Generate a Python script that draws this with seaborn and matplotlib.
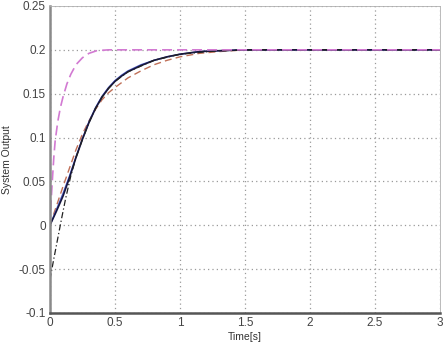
import matplotlib
matplotlib.use("Agg")
import matplotlib.pyplot as plt
import seaborn as sns
import pandas as pd

# ---- data ----
t_fast = [0, 0.01, 0.02, 0.03, 0.04, 0.06, 0.08, 0.10, 0.13, 0.16, 0.20, 0.25, 0.30, 0.36, 0.45, 0.6, 1.0, 2.0, 3.0]
y_fast = [0, 0.03, 0.055, 0.078, 0.096, 0.118, 0.134, 0.146, 0.161, 0.172, 0.183, 0.191, 0.196, 0.199, 0.2, 0.2, 0.2, 0.2, 0.2]

t_main = [0, 0.05, 0.10, 0.15, 0.20, 0.25, 0.30, 0.35, 0.40, 0.45, 0.50, 0.55, 0.60, 0.70, 0.80, 0.90, 1.00, 1.15, 1.30, 1.50, 2.0, 3.0]
y_navy = [0, 0.016, 0.033, 0.054, 0.077, 0.098, 0.117, 0.133, 0.146, 0.156, 0.164, 0.170, 0.175, 0.182, 0.188, 0.192, 0.195, 0.198, 0.199, 0.2, 0.2, 0.2]
y_blue = [0, 0.018, 0.036, 0.056, 0.078, 0.099, 0.118, 0.134, 0.147, 0.157, 0.165, 0.171, 0.176, 0.183, 0.188, 0.192, 0.195, 0.198, 0.199, 0.2, 0.2, 0.2]

t_neg = [0, 0.03, 0.06, 0.09, 0.12, 0.16, 0.20, 0.25, 0.30, 0.35, 0.40, 0.45, 0.50, 0.60, 0.80, 1.00, 1.30, 1.60, 2.0, 3.0]
y_neg = [-0.062, -0.038, -0.015, 0.008, 0.030, 0.056, 0.077, 0.098, 0.117, 0.133, 0.146, 0.156, 0.164, 0.175, 0.188, 0.195, 0.199, 0.2, 0.2, 0.2]

t_brown = [0, 0.05, 0.10, 0.15, 0.20, 0.25, 0.30, 0.35, 0.40, 0.45, 0.50, 0.60, 0.70, 0.80, 0.90, 1.00, 1.15, 1.30, 1.50, 1.8, 2.0, 3.0]
y_brown = [0, 0.022, 0.044, 0.065, 0.086, 0.104, 0.119, 0.132, 0.143, 0.151, 0.157, 0.168, 0.176, 0.183, 0.188, 0.192, 0.196, 0.198, 0.2, 0.2, 0.2, 0.2]

x_ticks = [0, 0.5, 1, 1.5, 2, 2.5, 3]
x_tick_labels = ["0", "0.5", "1", "1.5", "2", "2.5", "3"]
y_ticks = [-0.1, -0.05, 0, 0.05, 0.1, 0.15, 0.2, 0.25]
y_tick_labels = ["-0.1", "-0.05", "0", "0.05", "0.1", "0.15", "0.2", "0.25"]

sns.set_style("white")
plt.rcParams['font.family'] = ['Liberation Sans', 'DejaVu Sans']

fig = plt.figure(figsize=(4.46, 3.42), dpi=100)
ax = fig.add_axes([0.112, 0.085, 0.8745, 0.8975])

series = [
    (t_brown, y_brown, "#c07058", (0, (5, 3)), 1.0),
    (t_main, y_blue, "#4f5cc8", "-", 1.0),
    (t_main, y_navy, "#16163f", "-", 1.2),
    (t_neg, y_neg, "#222222", (0, (5, 2, 1, 2)), 0.9),
    (t_fast, y_fast, "#d27ad2", (0, (6, 3)), 1.2),
]
for tx, yy, col, ls, lw in series:
    df = pd.DataFrame({"t": tx, "y": yy})
    sns.lineplot(data=df, x="t", y="y", ax=ax, color=col, linewidth=lw,
                 linestyle=ls, sort=False, estimator=None)

ax.set_xlim(0, 3)
ax.set_ylim(-0.1, 0.25)
ax.set_xticks(x_ticks)
ax.set_xticklabels(x_tick_labels)
ax.set_yticks(y_ticks)
ax.set_yticklabels(y_tick_labels)
ax.grid(True, color="#9a9a9a", linestyle=(0, (1, 2.5)), linewidth=0.9)
ax.tick_params(direction="in", length=3, labelsize=8.5, colors="#444444", pad=3,
               width=0.6)
for side in ["top", "right"]:
    ax.spines[side].set_color("#b0b0b0")
    ax.spines[side].set_linewidth(0.6)
ax.spines["left"].set_color("#8a8a8a")
ax.spines["left"].set_linewidth(1.8)
ax.spines["bottom"].set_color("#555555")
ax.spines["bottom"].set_linewidth(1.8)

ax.set_xlabel("Time[s]", fontsize=7.5, color="#333333", labelpad=2)
ax.set_ylabel("System Output", fontsize=7.5, color="#333333", labelpad=5)

fig.savefig("out.png", dpi=100)
